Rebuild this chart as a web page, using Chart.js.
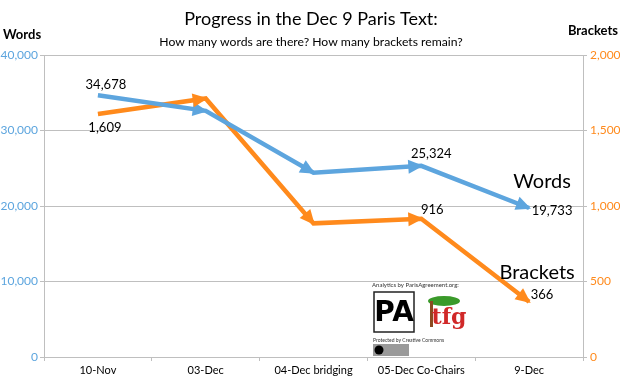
<!DOCTYPE html>
<html>
<head>
<meta charset="utf-8">
<script src="https://cdn.jsdelivr.net/npm/chart.js@4"></script>
<style>
  html, body { margin: 0; padding: 0; background: #fff; }
  #wrap { width: 620px; height: 380px; position: relative; }
</style>
</head>
<body>
<div id="wrap"><canvas id="chart" width="620" height="380"></canvas></div>
<script>
var categories = ['10-Nov', '03-Dec', '04-Dec bridging', '05-Dec Co-Chairs', '9-Dec'];
var words = [34678, 32600, 24400, 25324, 19733];
var brackets = [1609, 1712, 885, 916, 366];
var wordTicks = [0, 10000, 20000, 30000, 40000];
var bracketTicks = [0, 500, 1000, 1500, 2000];

var blue = '#5DA5DE';
var orange = '#FF8A1C';
var font = 'Lato, "Open Sans", sans-serif';
var fmt = new Intl.NumberFormat('en-US');

// which points get a value label, and where it sits relative to the point
var labelSpots = [
  {0: [8, -10], 3: [10, -12], 4: [23, 3]},
  {0: [7, 14], 3: [11, -9], 4: [13, -7]}
];

var arrows = {
  id: 'arrows',
  afterDatasetsDraw(chart) {
    var ctx = chart.ctx;
    chart.data.datasets.forEach((ds, d) => {
      var pts = chart.getDatasetMeta(d).data;
      ctx.save();
      ctx.fillStyle = ds.borderColor;
      for (var i = 1; i < pts.length; i++) {
        var a = pts[i - 1], b = pts[i];
        var ang = Math.atan2(b.y - a.y, b.x - a.x);
        ctx.save();
        ctx.translate(b.x, b.y);
        ctx.rotate(ang);
        ctx.beginPath();
        ctx.moveTo(2, 0);
        ctx.lineTo(-13, -7);
        ctx.lineTo(-13, 7);
        ctx.closePath();
        ctx.fill();
        ctx.restore();
      }
      ctx.restore();
    });
  }
};

var texts = {
  id: 'texts',
  afterDraw(chart) {
    var ctx = chart.ctx;
    ctx.save();
    ctx.fillStyle = '#000';
    ctx.textAlign = 'center';
    ctx.textBaseline = 'middle';
    ctx.font = '18px ' + font;
    ctx.fillText('Progress in the Dec 9 Paris Text:', 311, 19);
    ctx.font = '12.2px ' + font;
    ctx.fillText('How many words are there? How many brackets remain?', 311, 42);
    ctx.font = 'bold 13px ' + font;
    ctx.textAlign = 'left';
    ctx.fillText('Words', 3, 35);
    ctx.textAlign = 'right';
    ctx.fillText('Brackets', 618, 31);

    // value labels
    ctx.textAlign = 'center';
    ctx.font = '13px ' + font;
    chart.data.datasets.forEach((ds, d) => {
      var pts = chart.getDatasetMeta(d).data;
      Object.keys(labelSpots[d]).forEach((k) => {
        var off = labelSpots[d][k];
        var p = pts[k];
        ctx.fillText(fmt.format(ds.data[k]), p.x + off[0], p.y + off[1]);
      });
    });

    // series names
    ctx.font = '20px ' + font;
    var w = chart.getDatasetMeta(0).data[4];
    var b = chart.getDatasetMeta(1).data[4];
    ctx.fillText('Words', w.x + 13, w.y - 26);
    ctx.fillText('Brackets', b.x + 8, b.y - 29);

    // credits block
    ctx.textAlign = 'left';
    ctx.font = '6px ' + font;
    ctx.fillStyle = '#333';
    ctx.fillText('Analytics by ParisAgreement.org:', 372, 285);
    ctx.strokeStyle = '#222';
    ctx.lineWidth = 1.5;
    ctx.strokeRect(374, 292, 40, 40);
    ctx.fillStyle = '#000';
    ctx.font = 'bold 28px "DejaVu Sans", sans-serif';
    ctx.textAlign = 'center';
    ctx.fillText('PA', 394, 314);
    ctx.fillStyle = '#3a9a2a';
    ctx.beginPath();
    ctx.ellipse(444, 301, 16, 5, 0, 0, Math.PI * 2);
    ctx.fill();
    ctx.fillStyle = '#8a4a20';
    ctx.fillRect(430, 301, 3, 26);
    ctx.fillStyle = '#d02828';
    ctx.font = 'bold 22px "DejaVu Serif", serif';
    ctx.fillText('tfg', 449, 318);
    ctx.textAlign = 'left';
    ctx.fillStyle = '#333';
    ctx.font = '5px ' + font;
    ctx.fillText('Protected by Creative Commons', 373, 340);
    ctx.fillStyle = '#9a9a9a';
    ctx.fillRect(373, 344, 36, 12);
    ctx.fillStyle = '#000';
    ctx.beginPath();
    ctx.arc(379, 350, 4.5, 0, Math.PI * 2);
    ctx.fill();
    ctx.restore();
  }
};

new Chart(document.getElementById('chart'), {
  type: 'line',
  data: {
    labels: categories,
    datasets: [
      {label: 'Words', data: words, yAxisID: 'y', borderColor: blue, backgroundColor: blue},
      {label: 'Brackets', data: brackets, yAxisID: 'y2', borderColor: orange, backgroundColor: orange}
    ]
  },
  options: {
    responsive: false,
    animation: false,
    layout: {padding: {top: 55, left: 0, right: 0, bottom: 0}},
    elements: {
      line: {borderWidth: 4.5, tension: 0, borderJoinStyle: 'miter'},
      point: {radius: 0, hoverRadius: 0}
    },
    plugins: {legend: {display: false}, tooltip: {enabled: false}},
    scales: {
      x: {
        offset: true,
        grid: {offset: true, drawOnChartArea: false, color: '#BFBFBF', tickLength: 4},
        border: {color: '#BFBFBF'},
        ticks: {color: '#000', font: {family: font, size: 11}, padding: 3, maxRotation: 0},
        afterFit(s) { s.height = 23; }
      },
      y: {
        position: 'left',
        min: 0, max: 40000,
        afterBuildTicks(s) { s.ticks = wordTicks.map((v) => ({value: v})); },
        grid: {color: '#BFBFBF', tickLength: 4},
        border: {color: '#BFBFBF'},
        ticks: {color: blue, font: {family: font, size: 12}, padding: 2, callback: (v) => fmt.format(v)},
        afterFit(s) { s.width = 44; }
      },
      y2: {
        position: 'right',
        min: 0, max: 2000,
        afterBuildTicks(s) { s.ticks = bracketTicks.map((v) => ({value: v})); },
        grid: {drawOnChartArea: false, color: '#BFBFBF', tickLength: 4},
        border: {color: '#BFBFBF'},
        ticks: {color: orange, font: {family: font, size: 12}, padding: 3, callback: (v) => fmt.format(v)},
        afterFit(s) { s.width = 37; }
      }
    }
  },
  plugins: [arrows, texts]
});
</script>
</body>
</html>
